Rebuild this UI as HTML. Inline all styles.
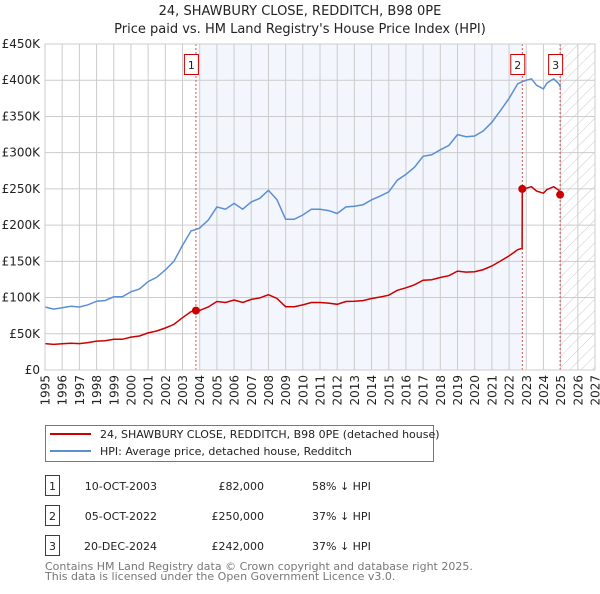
<!DOCTYPE html>
<html><head><meta charset="utf-8">
<style>
body{margin:0;background:#fff;font-family:"DejaVu Sans","Liberation Sans",sans-serif;}
svg text{font-family:"DejaVu Sans","Liberation Sans",sans-serif;}
</style></head>
<body>
<svg id="chart" width="600" height="590" xmlns="http://www.w3.org/2000/svg">
<defs>
<pattern id="hatch" width="8" height="8" patternUnits="userSpaceOnUse" patternTransform="rotate(45)">
<line x1="0" y1="0" x2="0" y2="8" stroke="#ccc" stroke-width="1"/>
</pattern>
</defs>
<text x="300" y="15" text-anchor="middle" font-size="13" fill="#222">24, SHAWBURY CLOSE, REDDITCH, B98 0PE</text>
<text x="300" y="33" text-anchor="middle" font-size="13" fill="#222">Price paid vs. HM Land Registry's House Price Index (HPI)</text>
<g id="plot"></g>
<g>
<rect x="45.5" y="425.5" width="388" height="36" fill="#fff" stroke="#777"/>
<line x1="50" y1="434" x2="91" y2="434" stroke="#cc0000" stroke-width="2"/>
<text x="100" y="438" font-size="11" fill="#222">24, SHAWBURY CLOSE, REDDITCH, B98 0PE (detached house)</text>
<line x1="50" y1="451" x2="91" y2="451" stroke="#5b8fd4" stroke-width="2"/>
<text x="100" y="455" font-size="11" fill="#222">HPI: Average price, detached house, Redditch</text>
</g>
<g font-size="11" fill="#222">
<rect x="45.5" y="475.5" width="14" height="20" fill="#fff" stroke="#cc0000"/><text x="52.5" y="490" text-anchor="middle">1</text>
<text x="157" y="490" text-anchor="end">10-OCT-2003</text><text x="264" y="490" text-anchor="end">£82,000</text><text x="312" y="490">58% ↓ HPI</text>
<rect x="45.5" y="505.5" width="14" height="20" fill="#fff" stroke="#cc0000"/><text x="52.5" y="520" text-anchor="middle">2</text>
<text x="157" y="520" text-anchor="end">05-OCT-2022</text><text x="264" y="520" text-anchor="end">£250,000</text><text x="312" y="520">37% ↓ HPI</text>
<rect x="45.5" y="535.5" width="14" height="20" fill="#fff" stroke="#cc0000"/><text x="52.5" y="550" text-anchor="middle">3</text>
<text x="157" y="550" text-anchor="end">20-DEC-2024</text><text x="264" y="550" text-anchor="end">£242,000</text><text x="312" y="550">37% ↓ HPI</text>
</g>
<text x="45" y="570" font-size="11" fill="#777">Contains HM Land Registry data © Crown copyright and database right 2025.</text>
<text x="45" y="580" font-size="11" fill="#777">This data is licensed under the Open Government Licence v3.0.</text>
</svg>
<script>
const hpiDates=[1995,1995.5,1996,1996.5,1997,1997.5,1998,1998.5,1999,1999.5,2000,2000.5,2001,2001.5,2002,2002.5,2003,2003.5,2003.78,2004,2004.5,2005,2005.5,2006,2006.5,2007,2007.5,2008,2008.5,2009,2009.5,2010,2010.5,2011,2011.5,2012,2012.5,2013,2013.5,2014,2014.5,2015,2015.5,2016,2016.5,2017,2017.5,2018,2018.5,2019,2019.5,2020,2020.5,2021,2021.5,2022,2022.5,2022.77,2023,2023.3,2023.6,2024,2024.2,2024.6,2024.9,2025];
const hpiValues=[87,84,86,88,87,90,95,96,101,101,108,112,122,128,138,150,172,192,194,196,207,225,222,230,222,232,237,248,235,208,208,214,222,222,220,216,225,226,228,235,240,246,262,270,280,295,297,304,310,325,322,323,330,342,358,375,395,398,400,402,393,388,396,402,395,390];
const redDates=[1995,1995.5,1996,1996.5,1997,1997.5,1998,1998.5,1999,1999.5,2000,2000.5,2001,2001.5,2002,2002.5,2003,2003.5,2003.78,2004,2004.5,2005,2005.5,2006,2006.5,2007,2007.5,2008,2008.5,2009,2009.5,2010,2010.5,2011,2011.5,2012,2012.5,2013,2013.5,2014,2014.5,2015,2015.5,2016,2016.5,2017,2017.5,2018,2018.5,2019,2019.5,2020,2020.5,2021,2021.5,2022,2022.5,2022.76,2022.77,2023,2023.3,2023.6,2024,2024.2,2024.6,2024.9,2024.97];
const redValues=[36.5,35.3,36.1,37,36.5,37.8,39.9,40.3,42.4,42.4,45.4,47,51.2,53.8,58,63,72.2,80.6,82,82.3,86.9,94.5,93.2,96.6,93.2,97.4,99.5,104,98.7,87.4,87.4,89.9,93.2,93.2,92.4,90.7,94.5,94.9,95.8,98.7,100.8,103.3,110,113.4,117.6,123.9,124.7,127.7,130.2,136.5,135.2,135.7,138.6,143.6,150.4,157.5,166,168,250,251,253,247,244,249,253,248,242];
const saleLabels=["1","2","3"];
const saleDates=[2003.78,2022.77,2024.97];
const saleValues=[82,250,242];
const yTicks=[0,50,100,150,200,250,300,350,400,450];
const yTickLabels=["£0","£50K","£100K","£150K","£200K","£250K","£300K","£350K","£400K","£450K"];
const xYears=[1995,1996,1997,1998,1999,2000,2001,2002,2003,2004,2005,2006,2007,2008,2009,2010,2011,2012,2013,2014,2015,2016,2017,2018,2019,2020,2021,2022,2023,2024,2025,2026,2027];

const L=45,R=595,T=44,B=370;
const x=d=>L+(d-1995)/(2027-1995)*(R-L);
const y=v=>B-v/450*(B-T);
const NS="http://www.w3.org/2000/svg";
const g=document.getElementById('plot');
function mk(t,a){const e=document.createElementNS(NS,t);for(const k in a)e.setAttribute(k,a[k]);g.appendChild(e);return e;}

let e=mk('rect',{x:L,y:T,width:R-L,height:B-T,fill:'#fff'});


e=mk('rect',{x:x(2004),y:T,width:x(saleDates[1])-x(2004),height:B-T,fill:'#f3f6fd'});


e=mk('rect',{x:x(2025),y:T,width:R-x(2025),height:B-T,fill:'url(#hatch)'});



xYears.forEach(yr=>{
  const l=mk('line',{x1:x(yr),x2:x(yr),y1:T,y2:B,stroke:'#ccc','stroke-width':1});
  
  
  const t=mk('text',{x:0,y:0,'font-size':12,fill:'#222','text-anchor':'end',transform:`translate(${x(yr)+4.5},${B+5}) rotate(-90)`});
  t.textContent=yr;
  
  
});
yTicks.forEach((v,i)=>{
  const l=mk('line',{x1:L,x2:R,y1:y(v),y2:y(v),stroke:'#ccc','stroke-width':1});
  
  
  const t=mk('text',{x:L-5,y:y(v)+4,'font-size':12,fill:'#222','text-anchor':'end'});
  t.textContent=yTickLabels[i];
  
  
});

saleDates.forEach((d,i)=>{
  const l=mk('line',{x1:x(d),x2:x(d),y1:T,y2:B,stroke:'#e05050','stroke-width':1,'stroke-dasharray':'2,2'});
  
  
});

const path=(ds,vs)=>ds.map((d,i)=>(i?'L':'M')+x(d).toFixed(1)+','+y(vs[i]).toFixed(1)).join('');
e=mk('path',{d:path(hpiDates,hpiValues),fill:'none',stroke:'#5b8fd4','stroke-width':1.5});


e=mk('path',{d:path(redDates,redValues),fill:'none',stroke:'#cc0000','stroke-width':1.5});



saleDates.forEach((d,i)=>{
  const c=mk('circle',{cx:x(d),cy:y(saleValues[i]),r:4,fill:'#cc0000'});
  
  
  const bx=mk('rect',{x:x(d)-11.5,y:54.5,width:14,height:20,fill:'#fff',stroke:'#cc0000'});
  
  
  const t=mk('text',{x:x(d)-4.5,y:69,'font-size':11,fill:'#222','text-anchor':'middle'});
  t.textContent=saleLabels[i];
  
  
});
e=mk('rect',{x:L,y:T,width:R-L,height:B-T,fill:'none',stroke:'#ccc'});


</script>
</body></html>
